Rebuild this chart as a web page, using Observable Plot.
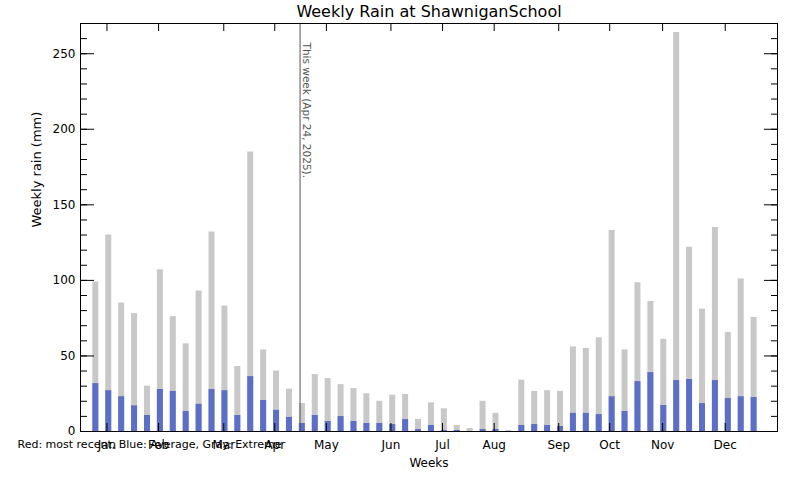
<!DOCTYPE html>
<html>
<head>
<meta charset="utf-8">
<script src="https://cdn.jsdelivr.net/npm/d3@7"></script>
<script src="https://cdn.jsdelivr.net/npm/@observablehq/plot@0.6"></script>
<style>
  html, body { margin: 0; padding: 0; background: #fff; }
  svg { display: block; }
</style>
</head>
<body>
<div id="chart"></div>
<script>
// ---- data ----
const weekNumbers = d3.range(1, 53);
const extremeRain = [99, 130, 85, 78, 30, 107, 76, 58, 93, 132, 83, 43, 185, 54, 40, 28,
  18.5, 37.7, 35, 31, 28.4, 25, 20, 24, 24.5, 8, 19, 15, 4, 2, 20, 12, 0.7,
  34, 26.5, 27, 26.5, 56, 55, 62, 133, 54, 98.5, 86, 61, 264, 122, 81, 135, 65.5, 101, 75.5];
const averageRain = [31.7, 27, 23, 17, 10.6, 27.8, 26.5, 13.2, 18, 27.8, 27, 10.6, 36.3, 20.5, 14, 9.3,
  5.3, 10.6, 6.6, 9.9, 6.6, 5.3, 5.3, 4.6, 7.9, 1.3, 4, 0.7, 0.7, 0, 1.3, 1.3, 0,
  4, 4.6, 4, 3.3, 12, 12, 11.2, 23, 13.2, 33, 39, 17.2, 33.7, 34.4, 18.5, 33.7, 21.8, 23, 22.5];
const monthLabels = ["Jan", "Feb", "Mar", "Apr", "May", "Jun", "Jul", "Aug", "Sep", "Oct", "Nov", "Dec"];
const monthTickWeeks = [1.9, 5.9, 10.95, 14.9, 18.9, 23.9, 27.9, 31.9, 36.9, 40.85, 44.95, 49.8];
const majorTicks = [0, 50, 100, 150, 200, 250];
const minorTicks = d3.range(0, 271, 10);
const thisWeek = 16.86;
const thisWeekLabel = "This week (Apr 24, 2025).";
const titleText = "Weekly Rain at ShawniganSchool";
const yLabel = "Weekly rain (mm)";
const xLabel = "Weeks";
const legendText = "Red: most recent, Blue: Average, Gray: Extreme";

const table = weekNumbers.map((w, i) => ({week: w, extreme: extremeRain[i], average: averageRain[i]}));

const gray = "#c8c8c8";
const blue = "#5b6fc7";

const chart = Plot.plot({
  width: 800,
  height: 480,
  marginLeft: 80,
  marginRight: 23,
  marginTop: 23,
  marginBottom: 49,
  style: {fontFamily: "DejaVu Sans", fontSize: "12px", background: "#fff", color: "#000"},
  x: {domain: [-0.15, 53.85], axis: null},
  y: {domain: [0, 270], axis: null},
  marks: [
    Plot.ruleX(table, {x: "week", y1: 0, y2: "extreme", stroke: gray, strokeWidth: 6}),
    Plot.ruleX(table, {x: "week", y1: 0, y2: "average", stroke: blue, strokeWidth: 6}),
    Plot.ruleX([thisWeek], {stroke: "#555", strokeWidth: 1}),
    Plot.text([thisWeekLabel], {x: thisWeek, frameAnchor: "top", rotate: 90, textAnchor: "start",
      lineAnchor: "middle", dx: 6, dy: 19, fontSize: 10.5, fill: "#555"}),
    // y axis ticks (inward), left and right
    Plot.axisY(majorTicks, {anchor: "left", tickSize: -14, fill: "none", label: null}),
    Plot.axisY(minorTicks, {anchor: "left", tickSize: -7, fill: "none", label: null}),
    Plot.axisY(majorTicks, {anchor: "right", tickSize: -14, fill: "none", label: null}),
    Plot.axisY(minorTicks, {anchor: "right", tickSize: -7, fill: "none", label: null}),
    Plot.axisY(majorTicks, {anchor: "left", tickSize: 0, tickPadding: 5, fontSize: 12, label: null}),
    // x axis ticks (inward), bottom and top
    Plot.axisX(monthTickWeeks, {anchor: "bottom", tickSize: -8, fill: "none", label: null}),
    Plot.axisX(monthTickWeeks, {anchor: "top", tickSize: -7, fill: "none", label: null}),
    Plot.axisX(monthTickWeeks, {anchor: "bottom", tickSize: 0, tickPadding: 9, fontSize: 12,
      tickFormat: (d, i) => monthLabels[i], label: null}),
    Plot.frame({stroke: "#000"}),
    // texts
    Plot.text([titleText], {frameAnchor: "top", lineAnchor: "bottom", dy: -6.3, fontSize: 16}),
    Plot.text([yLabel], {frameAnchor: "left", rotate: -90, dx: -44, fontSize: 13}),
    Plot.text([xLabel], {frameAnchor: "bottom", lineAnchor: "bottom", dy: 35, fontSize: 12}),
    Plot.text([legendText], {frameAnchor: "bottom-left", textAnchor: "start", lineAnchor: "bottom",
      dx: -63, dy: 16, fontSize: 11})
  ]
});
document.getElementById("chart").appendChild(chart);
</script>
</body>
</html>
